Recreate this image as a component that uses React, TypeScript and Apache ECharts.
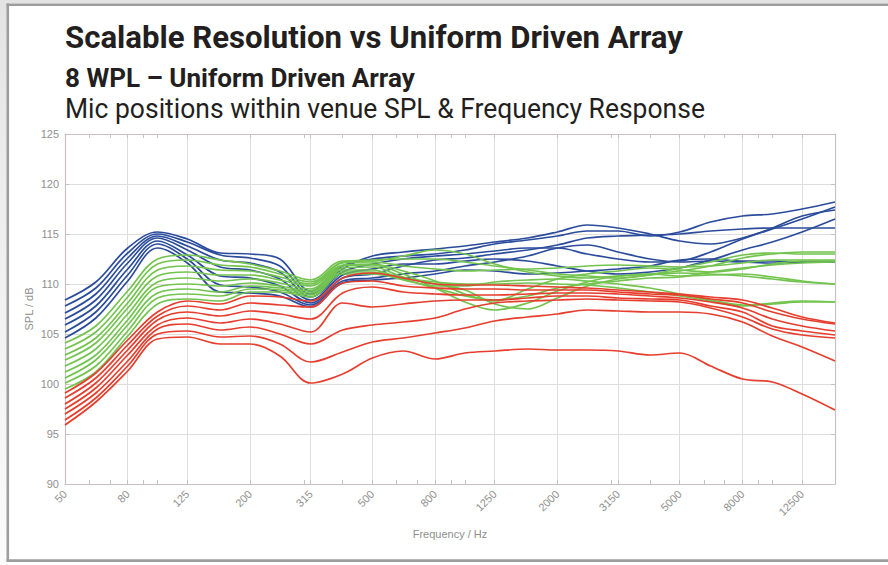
import React, { useEffect, useRef } from "react";
import * as echarts from "echarts";

const titleText = "Scalable Resolution vs Uniform Driven Array";
const subtitleText = "8 WPL \u2013 Uniform Driven Array";
const captionText = "Mic positions within venue SPL & Frequency Response";

const freqs = [50, 63, 80, 100, 125, 160, 200, 250, 315, 400, 500, 630, 800, 1000, 1250, 1600, 2000, 2500, 3150, 4000, 5000, 6300, 8000, 10000, 12500, 16000];
const majorTicks = [50, 80, 125, 200, 315, 500, 800, 1250, 2000, 3150, 5000, 8000, 12500];
const minorTicks = [50, 60, 70, 80, 90, 100, 125, 200, 300, 315, 400, 500, 600, 700, 800, 900, 1000, 1250, 2000, 3000, 3150, 4000, 5000, 6000, 7000, 8000, 9000, 10000, 12500];

const blue1 = [108.4, 110.2, 113.6, 115.2, 114.5, 113.1, 113.0, 112.5, 109.3, 111.8, 112.5, 112.8, 113.0, 113.4, 114.0, 114.4, 114.8, 115.3, 115.3, 114.8, 115.2, 116.2, 116.8, 117.0, 117.5, 118.2];
const blue2 = [107.8, 109.6, 113.1, 115.0, 114.2, 112.9, 112.6, 111.8, 109.0, 111.5, 112.8, 113.2, 113.5, 113.8, 114.2, 114.6, 115.2, 115.9, 115.6, 115.0, 114.3, 114.0, 114.6, 115.5, 116.5, 117.7];
const blue3 = [107.1, 109.0, 112.6, 114.8, 113.8, 112.4, 112.1, 111.2, 108.7, 111.2, 112.0, 112.5, 112.8, 113.0, 113.3, 113.6, 113.6, 113.0, 112.5, 112.2, 112.3, 113.2, 114.5, 115.6, 116.8, 117.4];
const blue4 = [106.5, 108.4, 112.1, 114.6, 113.4, 111.7, 111.4, 110.5, 108.4, 110.9, 111.5, 112.0, 112.0, 112.3, 112.5, 112.3, 111.8, 111.3, 111.0, 111.2, 111.6, 112.4, 113.4, 114.2, 115.2, 116.5];
const blue5 = [105.9, 107.8, 111.5, 114.3, 112.9, 110.8, 110.6, 109.8, 108.1, 110.6, 111.0, 111.8, 112.4, 112.6, 113.0, 113.4, 113.9, 114.6, 114.8, 114.9, 115.0, 115.3, 115.5, 115.6, 115.6, 115.6];
const blue6 = [105.2, 107.2, 110.9, 114.0, 112.5, 109.9, 109.7, 109.2, 107.9, 110.3, 110.6, 111.0, 111.3, 111.8, 112.2, 112.8, 113.6, 113.9, 113.2, 112.5, 112.2, 112.3, 112.2, 112.1, 112.2, 112.2];
const blue7 = [104.6, 106.6, 110.3, 113.6, 112.1, 109.2, 109.1, 108.8, 107.7, 110.1, 110.4, 110.6, 111.0, 111.4, 111.3, 111.0, 111.1, 111.3, 111.5, 111.8, 112.4, 112.5, 112.3, 112.3, 112.2, 112.2];

const green1 = [104.1, 105.8, 109.3, 112.5, 112.9, 112.4, 112.0, 111.3, 110.4, 112.3, 112.3, 112.8, 113.4, 113.0, 112.0, 111.2, 110.8, 110.6, 110.8, 111.0, 111.3, 111.8, 112.6, 113.0, 113.2, 113.2];
const green2 = [103.5, 105.2, 108.7, 112.0, 112.4, 111.9, 111.7, 111.0, 110.2, 112.2, 112.4, 112.5, 112.5, 112.2, 111.8, 111.4, 111.0, 110.8, 110.6, 110.9, 111.6, 112.2, 112.9, 113.1, 113.0, 113.0];
const green3 = [102.9, 104.6, 108.1, 111.4, 111.8, 111.4, 111.3, 110.7, 110.0, 112.1, 112.2, 111.8, 111.5, 111.3, 111.4, 111.5, 111.6, 111.8, 111.9, 111.8, 111.7, 111.8, 112.1, 112.4, 112.4, 112.4];
const green4 = [102.4, 104.1, 107.6, 110.8, 111.2, 110.9, 110.9, 110.4, 109.8, 111.9, 112.0, 111.3, 110.3, 109.0, 108.3, 109.5, 110.5, 111.0, 111.3, 111.6, 111.4, 111.2, 111.5, 112.0, 112.3, 112.3];
const green5 = [101.8, 103.5, 107.0, 110.2, 110.6, 110.3, 110.5, 110.1, 109.5, 111.8, 111.9, 111.0, 109.6, 108.2, 107.4, 108.1, 109.3, 110.2, 110.8, 111.0, 110.8, 110.9, 111.0, 110.7, 110.3, 110.0];
const green6 = [101.2, 102.9, 106.4, 109.7, 110.0, 109.8, 110.1, 109.8, 109.3, 111.6, 111.7, 110.7, 110.0, 109.4, 108.0, 107.5, 108.6, 109.8, 110.5, 110.9, 111.1, 111.0, 110.8, 110.5, 110.2, 110.0];
const green7 = [100.6, 102.4, 105.9, 109.1, 109.5, 109.2, 109.8, 109.6, 109.1, 111.4, 111.4, 110.5, 109.8, 109.8, 110.2, 110.4, 110.5, 110.3, 110.0, 109.6, 109.0, 108.4, 107.9, 108.0, 108.2, 108.2];
const green8 = [100.1, 101.8, 105.3, 108.6, 109.0, 108.8, 109.5, 109.4, 108.9, 111.2, 111.2, 110.6, 110.2, 110.0, 110.0, 110.1, 110.0, 109.9, 109.6, 109.2, 108.8, 108.3, 107.8, 108.1, 108.3, 108.2];
const green9 = [99.5, 101.2, 104.8, 108.0, 108.5, 108.3, 109.2, 109.2, 108.7, 111.0, 111.0, 110.4, 109.6, 108.8, 108.4, 108.8, 109.6, 110.0, 110.3, 110.6, 110.7, 111.2, 111.6, 111.9, 112.1, 112.2];

const red1 = [99.1, 101.1, 104.4, 107.2, 108.3, 108.0, 108.8, 108.7, 108.3, 110.6, 111.1, 110.6, 110.0, 109.9, 109.9, 109.8, 109.7, 109.6, 109.4, 109.2, 109.0, 108.7, 108.4, 107.6, 106.7, 106.1];
const red2 = [98.6, 100.6, 103.9, 106.8, 107.8, 107.4, 108.1, 107.9, 107.7, 110.1, 110.3, 109.8, 109.6, 109.5, 109.5, 109.4, 109.4, 109.4, 109.2, 109.0, 108.9, 108.5, 108.1, 107.2, 106.5, 106.0];
const red3 = [98.0, 100.1, 103.4, 106.4, 107.2, 106.8, 107.3, 107.0, 106.5, 109.1, 109.7, 109.2, 109.0, 108.9, 108.9, 109.0, 109.1, 109.1, 109.0, 108.8, 108.6, 108.2, 107.6, 106.5, 105.8, 105.3];
const red4 = [97.5, 99.6, 102.9, 105.9, 106.6, 106.1, 106.5, 106.0, 105.2, 108.1, 107.7, 108.0, 108.3, 108.4, 108.4, 108.6, 108.8, 108.8, 108.6, 108.5, 108.4, 107.8, 107.2, 105.8, 105.3, 104.9];
const red5 = [97.0, 99.1, 102.3, 105.5, 106.0, 105.4, 105.7, 105.0, 104.0, 105.4, 105.9, 106.2, 106.6, 107.5, 108.1, 108.3, 108.4, 108.5, 108.4, 108.3, 108.2, 107.6, 106.7, 105.5, 104.9, 104.6];
const red6 = [96.4, 98.6, 101.8, 105.0, 105.3, 104.7, 104.8, 104.0, 102.2, 103.2, 104.2, 104.6, 105.1, 105.6, 106.3, 106.7, 107.0, 107.4, 107.3, 107.2, 107.2, 107.0, 106.2, 104.8, 103.7, 102.3];
const red7 = [95.9, 98.2, 101.3, 104.5, 104.7, 104.0, 104.0, 102.8, 100.1, 101.0, 102.6, 103.3, 102.5, 103.1, 103.3, 103.5, 103.4, 103.4, 103.3, 102.9, 103.1, 101.8, 100.5, 100.2, 99.0, 97.4];

const blueLines = [blue1, blue2, blue3, blue4, blue5, blue6, blue7];
const greenLines = [green1, green2, green3, green4, green5, green6, green7, green8, green9];
const redLines = [red1, red2, red3, red4, red5, red6, red7];

const BLUE = "#2b4c9c";
const GREEN = "#72c44e";
const RED = "#e63d2d";
const AXIS = "#c9c1c1";
const GRIDC = "#e1dcdc";
const LABEL = "#8f8f8f";

function fitScale(text: string, font: string, target: number) {
  const ctx = document.createElement("canvas").getContext("2d");
  if (!ctx) return 1;
  ctx.font = font;
  const w = ctx.measureText(text).width;
  return w > 0 ? target / w : 1;
}

export default function App() {
  const ref = useRef<HTMLDivElement>(null);
  useEffect(() => {
    if (!ref.current) return;
    const chart = echarts.init(ref.current, undefined, { renderer: "svg" });

    const f1 = "bold 32px Roboto";
    const f2 = "bold 26px Roboto";
    const f3 = "28px Roboto";
    const s1 = fitScale(titleText, f1, 618);
    const s2 = fitScale(subtitleText, f2, 350);
    const s3 = fitScale(captionText, f3, 640);

    const mk = (vals: number[], color: string, name: string) => ({
      type: "line",
      name,
      xAxisIndex: 0,
      yAxisIndex: 0,
      data: freqs.map((f, i) => [f, vals[i]]),
      showSymbol: false,
      symbol: "none",
      smooth: 0.35,
      lineStyle: { color, width: 1.7 },
      itemStyle: { color },
      silent: true,
    });

    const series = [
      ...blueLines.map((v, i) => mk(v, BLUE, "B" + (i + 1))),
      ...greenLines.map((v, i) => mk(v, GREEN, "G" + (i + 1))),
      ...redLines.map((v, i) => mk(v, RED, "R" + (i + 1))),
    ];

    const option: any = {
      animation: false,
      backgroundColor: "#ffffff",
      graphic: [
        { type: "rect", z: -10, shape: { x: 0, y: 0, width: 888, height: 3.5 }, style: { fill: "#e3e3e3" } },
        {
          type: "rect", z: -10, shape: { x: 0, y: 0, width: 7, height: 565 },
          style: { fill: { type: "linear", x: 0, y: 0, x2: 0, y2: 1, colorStops: [{ offset: 0, color: "#e3e3e3" }, { offset: 0.3, color: "#ececec" }, { offset: 1, color: "#fbfbfb" }] } },
        },
        { type: "rect", z: -5, shape: { x: 6.5, y: 3.5, width: 882, height: 2.6 }, style: { fill: "#9d9d9d" } },
        { type: "rect", z: -5, shape: { x: 6.5, y: 3.5, width: 2.6, height: 558 }, style: { fill: "#9d9d9d" } },
        { type: "rect", z: -5, shape: { x: 6.5, y: 559.3, width: 882, height: 2.6 }, style: { fill: "#9d9d9d" } },
        {
          type: "text", x: 65, y: 37.5, scaleX: s1,
          style: { text: titleText, font: f1, fill: "#231f20", align: "left", verticalAlign: "middle" },
        },
        {
          type: "text", x: 65, y: 78, scaleX: s2,
          style: { text: subtitleText, font: f2, fill: "#231f20", align: "left", verticalAlign: "middle" },
        },
        {
          type: "text", x: 65, y: 109, scaleX: s3,
          style: { text: captionText, font: f3, fill: "#231f20", align: "left", verticalAlign: "middle" },
        },
      ],
      grid: [
        { left: 65, right: 53, top: 134, bottom: 81, containLabel: false },
        { left: 65, right: 53, top: 134, bottom: 81, containLabel: false },
      ],
      xAxis: [
        {
          type: "log", gridIndex: 0, position: "bottom", min: 50, max: 16000, logBase: 10,
          name: "Frequency / Hz", nameLocation: "middle", nameGap: 44, nameMoveOverlap: false,
          nameTextStyle: { color: LABEL, fontSize: 11, fontFamily: "Liberation Sans" },
          axisLine: { show: true, lineStyle: { color: AXIS, width: 1.2 } },
          axisTick: { show: true, inside: true, length: 4, customValues: minorTicks, lineStyle: { color: AXIS } },
          minorTick: { show: false },
          axisLabel: {
            customValues: majorTicks, rotate: 45, margin: 8, color: LABEL, fontSize: 11,
            fontFamily: "Liberation Sans", formatter: (v: number) => String(Math.round(v)),
          },
          splitLine: { show: false },
        },
        {
          type: "log", gridIndex: 0, position: "top", min: 50, max: 16000, logBase: 10,
          axisLine: { show: true, lineStyle: { color: AXIS, width: 1.2 } },
          axisTick: { show: true, inside: true, length: 4, customValues: minorTicks, lineStyle: { color: AXIS } },
          minorTick: { show: false },
          axisLabel: { show: false },
          splitLine: { show: false },
        },
        {
          type: "log", gridIndex: 1, position: "bottom", min: 50, max: 16000, logBase: 10,
          axisLine: { show: false },
          axisTick: { show: false, customValues: majorTicks },
          axisLabel: { show: false, customValues: majorTicks },
          splitLine: { show: true, lineStyle: { color: GRIDC, width: 1 } },
        },
      ],
      yAxis: [
        {
          type: "value", gridIndex: 0, position: "left", min: 90, max: 125, interval: 5,
          name: "SPL / dB", nameLocation: "middle", nameGap: 31, nameMoveOverlap: false,
          nameTextStyle: { color: LABEL, fontSize: 11, fontFamily: "Liberation Sans" },
          axisLine: { show: true, lineStyle: { color: AXIS, width: 1.2 } },
          axisTick: { show: true, inside: true, length: 4, lineStyle: { color: AXIS } },
          axisLabel: { color: LABEL, fontSize: 11, margin: 6, fontFamily: "Liberation Sans" },
          splitLine: { show: true, lineStyle: { color: GRIDC, width: 1 } },
        },
        {
          type: "value", gridIndex: 0, position: "right", min: 90, max: 125, interval: 5,
          axisLine: { show: true, lineStyle: { color: AXIS, width: 1.2 } },
          axisTick: { show: true, inside: true, length: 4, lineStyle: { color: AXIS } },
          axisLabel: { show: false },
          splitLine: { show: false },
        },
        {
          type: "value", gridIndex: 1, min: 90, max: 125, interval: 5, show: false,
          splitLine: { show: false },
        },
      ],
      series,
    };

    chart.setOption(option);
    return () => chart.dispose();
  }, []);

  return (
    <div
      ref={ref}
      style={{ position: "fixed", left: 0, top: 0, width: 888, height: 565 }}
    />
  );
}
